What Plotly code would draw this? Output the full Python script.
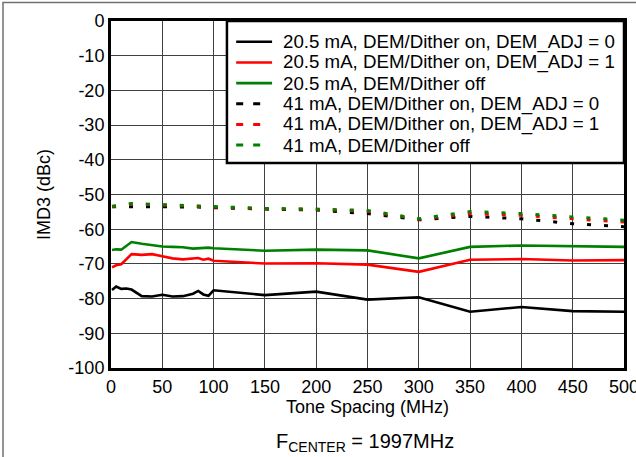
import plotly.graph_objects as go

# tone spacing (MHz)
spacing = [1, 5, 10, 15, 20, 30, 40, 50, 60, 70, 80, 85, 90, 95, 100,
           150, 200, 250, 300, 350, 400, 450, 500]

# IMD3 (dBc), 20.5 mA
imd3_20_adj0 = [-77.5, -76.5, -77.2, -77.1, -77.4, -79.3, -79.4, -78.9, -79.4, -79.3, -78.6, -77.8,
                -78.8, -79.2, -77.6, -79.0, -78.0, -80.3, -79.6, -83.8, -82.4, -83.6, -83.8]
imd3_20_adj1 = [-71.0, -70.4, -70.1, -68.5, -67.2, -67.4, -67.2, -67.8, -68.4, -68.7, -68.5, -68.3,
                -68.8, -68.5, -69.1, -69.9, -69.8, -70.2, -72.3, -68.8, -68.6, -69.0, -68.9]
imd3_20_off = [-66.0, -65.8, -65.9, -64.8, -63.7, -64.2, -64.7, -65.0, -65.1, -65.2, -65.6, -65.5,
               -65.3, -65.3, -65.5, -66.2, -65.9, -66.1, -68.4, -65.1, -64.7, -64.9, -65.1]

# IMD3 (dBc), 41 mA
imd3_41_adj0 = [-53.5, -53.5, -53.4, -53.4, -53.4, -53.4, -53.5, -53.5, -53.5, -53.6, -53.6, -53.6,
                -53.7, -53.7, -53.8, -54.2, -54.5, -55.5, -57.3, -56.3, -57.0, -58.4, -59.3]
imd3_41_adj1 = [-53.5, -53.3, -53.1, -52.9, -52.7, -52.8, -52.9, -52.9, -53.0, -53.1, -53.2, -53.3,
                -53.4, -53.5, -53.6, -54.1, -54.3, -54.8, -57.1, -55.5, -56.0, -57.0, -57.9]
imd3_41_off = [-53.4, -53.2, -53.0, -52.8, -52.6, -52.7, -52.8, -52.8, -52.9, -53.0, -53.1, -53.2,
               -53.3, -53.4, -53.5, -54.0, -54.2, -54.6, -57.0, -54.9, -55.5, -56.4, -57.4]

names = ["20.5 mA, DEM/Dither on, DEM_ADJ = 0",
         "20.5 mA, DEM/Dither on, DEM_ADJ = 1",
         "20.5 mA, DEM/Dither off",
         "41 mA, DEM/Dither on, DEM_ADJ = 0",
         "41 mA, DEM/Dither on, DEM_ADJ = 1",
         "41 mA, DEM/Dither off"]
series = [imd3_20_adj0, imd3_20_adj1, imd3_20_off, imd3_41_adj0, imd3_41_adj1, imd3_41_off]
colors = ["#000000", "#ff0000", "#008000", "#000000", "#ff0000", "#008000"]
dashed = [False, False, False, True, True, True]

x_ticks = [0, 50, 100, 150, 200, 250, 300, 350, 400, 450, 500]
y_ticks = [0, -10, -20, -30, -40, -50, -60, -70, -80, -90, -100]

FONT = "Liberation Sans, Arial, sans-serif"

fig = go.Figure()
for name, ys, c, d in zip(names, series, colors, dashed):
    fig.add_trace(go.Scatter(
        x=spacing, y=ys, name=name, mode="lines", showlegend=False,
        line=dict(color=c, width=3 if d else 2.6, dash="4px,13px" if d else "solid"),
    ))

# hand-built legend (tight row spacing like the datasheet figure)
fig.add_shape(type="rect", xref="paper", yref="paper", x0=0.226, x1=1.0, y0=0.591, y1=1.0,
              line=dict(color="black", width=2.5), fillcolor="white", layer="above")
for i, (name, c, d) in enumerate(zip(names, colors, dashed)):
    ry = 0.940 - i * 0.0595
    fig.add_shape(type="line", xref="paper", yref="paper", x0=0.244, x1=0.314 if not d else 0.300,
                  y0=ry, y1=ry, layer="above",
                  line=dict(color=c, width=2.6 if not d else 3, dash="7px,10px" if d else "solid"))
    fig.add_annotation(text=name, xref="paper", yref="paper", x=0.331, y=ry,
                       xanchor="left", yanchor="middle", showarrow=False,
                       font=dict(size=18.7, color="black", family=FONT))

# outer frame of the figure
fig.add_shape(type="rect", xref="paper", yref="paper", x0=-0.2105, x1=1.2, y0=-0.5, y1=1.053,
              line=dict(color="#707070", width=1.5), layer="below")

fig.add_annotation(text="F<sub>CENTER</sub> = 1997MHz", xref="paper", yref="paper",
                   x=0.495, y=-0.216, xanchor="center", yanchor="middle", showarrow=False,
                   font=dict(size=20, color="black", family=FONT))

fig.update_xaxes(range=[0, 500], tickvals=x_ticks, ticktext=[str(v) for v in x_ticks],
                 ticklabeloverflow="allow",
                 showgrid=True, gridcolor="#404040", gridwidth=1,
                 showline=True, linecolor="black", linewidth=3, mirror=True, zeroline=False,
                 ticks="", tickfont=dict(size=18, color="black", family=FONT),
                 title=dict(text="Tone Spacing (MHz)", standoff=5,
                            font=dict(size=18, color="black", family=FONT)))
fig.update_yaxes(range=[-100, 0], tickvals=y_ticks, ticktext=[str(v) for v in y_ticks],
                 showgrid=True, gridcolor="#404040", gridwidth=1,
                 showline=True, linecolor="black", linewidth=3, mirror=True, zeroline=False,
                 ticks="", tickfont=dict(size=18, color="black", family=FONT),
                 title=dict(text="IMD3 (dBc)", standoff=14,
                            font=dict(size=18, color="black", family=FONT)))

fig.update_layout(width=636, height=457, margin=dict(l=111, r=12, t=21, b=89, autoexpand=False),
                  plot_bgcolor="white", paper_bgcolor="white", showlegend=False)

fig.write_html("out.html", config={"displayModeBar": False},
               post_script="document.body.style.margin='0';")
